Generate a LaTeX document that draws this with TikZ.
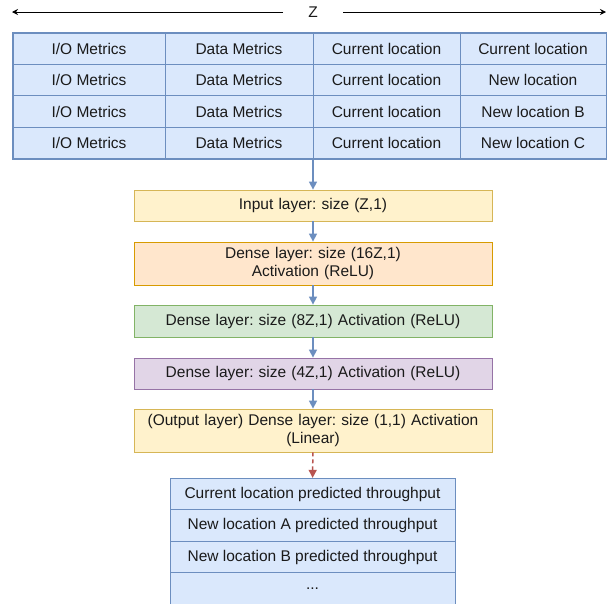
\documentclass[tikz,border=0pt]{standalone}
\usepackage{fontspec}
\setmainfont{Liberation Sans}
\usetikzlibrary{arrows.meta}
\frenchspacing
\definecolor{cellfill}{HTML}{DAE8FC}
\definecolor{celldraw}{HTML}{6C8EBF}
\definecolor{yfill}{HTML}{FFF2CC}
\definecolor{ydraw}{HTML}{D6B656}
\definecolor{ofill}{HTML}{FFE6CC}
\definecolor{odraw}{HTML}{D79B00}
\definecolor{gfill}{HTML}{D5E8D4}
\definecolor{gdraw}{HTML}{82B366}
\definecolor{pfill}{HTML}{E1D5E7}
\definecolor{pdraw}{HTML}{9673A6}
\definecolor{rdraw}{HTML}{B85450}
\definecolor{txt}{HTML}{1A1A1A}
\begin{document}
\begin{tikzpicture}[x=1pt,y=-1pt,
  every node/.style={font=\fontsize{15.5}{17.5}\selectfont, text=txt, inner sep=0pt, align=center},
  cell/.style={draw=celldraw, fill=cellfill, line width=0.8pt, minimum height=31.4pt},
  layer/.style={line width=0.8pt, minimum width=358pt, text width=350pt},
  flow/.style={draw=celldraw, line width=1.5pt, -{Triangle[length=8pt,width=8pt]}},
  zarrow/.style={draw=black, line width=1pt, -{Stealth[length=6pt,width=6pt]}}]
\useasboundingbox (0,0) rectangle (611,603);
% Z arrows
\node (z) at (313,12.5) {Z};
\coordinate (zl) at (12,12);
\coordinate (zr) at (606,12);
\draw[zarrow] (283,12) -- (zl);
\draw[zarrow] (343,12) -- (zr);
% top table
\foreach \r/\d [count=\i] in {48.7/{Current location},80.1/{New location},111.5/{New location B},142.9/{New location C}}{
  \node[cell, minimum width=152pt] (a\i) at (89,\r) {I/O Metrics};
  \node[cell, minimum width=148pt] (b\i) at (239,\r) {Data Metrics};
  \node[cell, minimum width=147pt] (c\i) at (386.5,\r) {Current location};
  \node[cell, minimum width=146pt] (d\i) at (533,\r) {\d};
}
\draw[celldraw, line width=1.4pt] (a1.north west) rectangle (d4.south east);
% layers
\node[layer, draw=ydraw, fill=yfill, minimum height=31pt] (inp) at (313,205.5) {Input layer: size (Z,1)};
\node[layer, draw=odraw, fill=ofill, minimum height=43pt] (d16) at (313,263.5) {Dense layer: size (16Z,1)\\Activation (ReLU)};
\node[layer, draw=gdraw, fill=gfill, minimum height=32pt] (d8) at (313,321) {Dense layer: size (8Z,1) Activation (ReLU)};
\node[layer, draw=pdraw, fill=pfill, minimum height=31pt] (d4l) at (313,373.5) {Dense layer: size (4Z,1) Activation (ReLU)};
\node[layer, draw=ydraw, fill=yfill, minimum height=43pt] (out) at (313,430.5) {(Output layer) Dense layer: size (1,1) Activation\\(Linear)};
% bottom table
\foreach \r/\t [count=\i] in {494/{Current location predicted throughput},525.5/{New location A predicted throughput},557/{New location B predicted throughput},588.5/{...}}{
  \node[cell, minimum width=285pt, minimum height=31.5pt] (p\i) at (312.5,\r) {\t};
}
% connectors
\draw[flow] (b4.south -| inp.north) -- (inp.north);
\draw[flow] (inp) -- (d16);
\draw[flow] (d16) -- (d8);
\draw[flow] (d8) -- (d4l);
\draw[flow] (d4l) -- (out);
\draw[draw=rdraw, line width=1.5pt, dash pattern=on 4pt off 3pt, -{Triangle[length=8pt,width=8pt]}] (out) -- (p1);
\end{tikzpicture}
\end{document}
